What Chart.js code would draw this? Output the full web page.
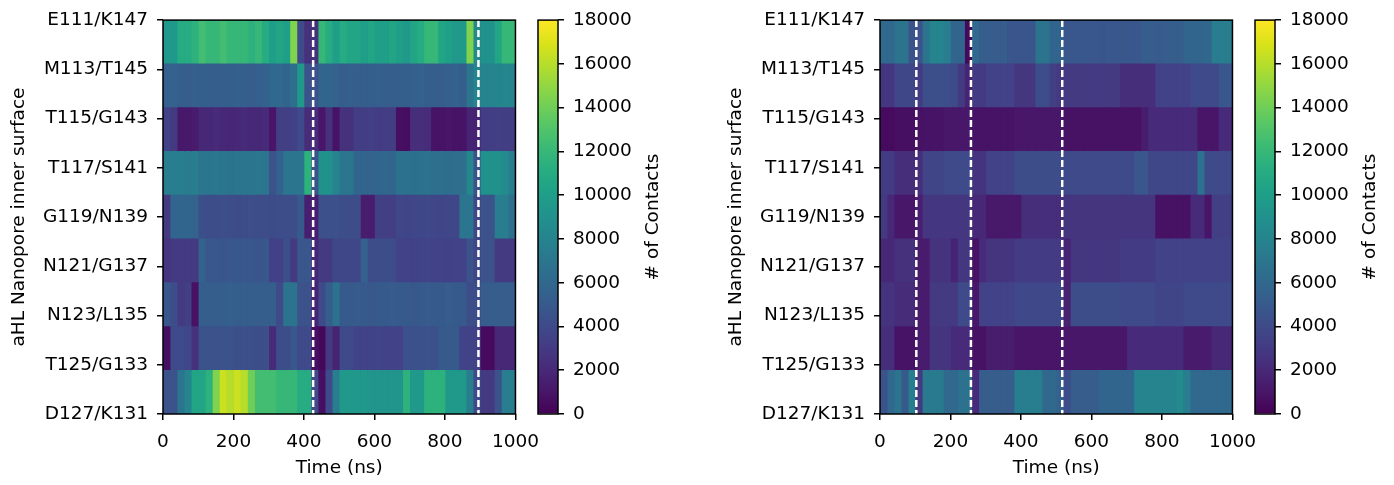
<!DOCTYPE html>
<html>
<head>
<meta charset="utf-8">
<script src="https://cdn.jsdelivr.net/npm/chart.js@4.4.1/dist/chart.umd.min.js"></script>
<style>
  body { margin: 0; background: #fff; width: 1394px; height: 485px; position: relative; overflow: hidden; }
  canvas { position: absolute; top: 0; }
</style>
</head>
<body>
<canvas id="heatA" width="550" height="485" style="left:0px"></canvas>
<canvas id="heatB" width="550" height="485" style="left:717px"></canvas>
<canvas id="barA" width="147" height="485" style="left:530px"></canvas>
<canvas id="barB" width="147" height="485" style="left:1247px"></canvas>
<script>
// row labels (top to bottom) and axis values
const rowLabels = ['E111/K147', 'M113/T145', 'T115/G143', 'T117/S141', 'G119/N139',
                   'N121/G137', 'N123/L135', 'T125/G133', 'D127/K131'];
const timeMax = 1000;
const binWidthNs = 20;
const timeTicks = [0, 200, 400, 600, 800, 1000];
const colorMin = 0;
const colorMax = 18000;
const colorTicks = [0, 2000, 4000, 6000, 8000, 10000, 12000, 14000, 16000, 18000];

// dashed marker times (ns)
const markersA = [426, 895];
const markersB = [103, 258, 517];

// left panel: contacts per 20 ns bin
const aE111 = [9500, 9500, 11000, 11000, 11500, 12500, 12000, 12000, 12500, 12000, 12000, 12000, 11500, 12000, 11000, 10000, 10500, 10000, 14500, 4000, 2500, 2500, 12000, 11000, 10000, 11000, 10500, 10500, 10000, 10500, 10000, 10000, 10500, 10000, 9500, 10500, 11000, 12000, 12000, 10500, 10000, 9500, 9500, 14500, 8500, 9000, 9000, 10500, 12000, 12000];
const aM113 = [5500, 5500, 5300, 5200, 5400, 5300, 5300, 5200, 5300, 5300, 5400, 5300, 5200, 5400, 5500, 6000, 6000, 5800, 6500, 9500, 4500, 4500, 5800, 5800, 5500, 5300, 5400, 5200, 5300, 5300, 5400, 5300, 5200, 5300, 5300, 5400, 5500, 5300, 5300, 5200, 5400, 5500, 5300, 7000, 8000, 8000, 8000, 8000, 8200, 8000];
const aT115 = [3500, 3000, 1200, 1200, 1300, 2000, 2000, 2100, 2000, 1900, 2000, 2100, 2000, 2000, 2100, 1000, 3300, 3300, 3400, 4000, 2200, 2200, 1000, 2500, 900, 2500, 2500, 3200, 3200, 3300, 3100, 3200, 3200, 700, 600, 2300, 2300, 2200, 900, 900, 1000, 900, 900, 1700, 1700, 3200, 3200, 3300, 3200, 3200];
const aT117 = [7500, 7500, 7500, 7400, 7500, 7000, 7000, 7100, 7000, 6900, 7000, 7000, 7000, 7100, 7000, 4500, 5500, 7000, 7000, 7000, 11500, 4600, 9000, 9000, 8000, 7000, 7000, 5800, 5800, 5700, 5800, 5900, 5800, 6700, 6700, 6600, 6700, 6800, 6500, 6500, 6400, 6500, 6500, 8200, 4600, 9000, 9000, 9000, 8500, 7500];
const aG119 = [3000, 5800, 5800, 5800, 5600, 4300, 4200, 4200, 4300, 4200, 4100, 4200, 4300, 4200, 4200, 4100, 4200, 4200, 4200, 5000, 1500, 1500, 4400, 4400, 4400, 4200, 4200, 4200, 1400, 1400, 3300, 3300, 3300, 3800, 3700, 3800, 3800, 3900, 3800, 3700, 3800, 3800, 7000, 7000, 3800, 4500, 4500, 7500, 7500, 6500];
const aN121 = [2700, 3000, 3000, 3000, 3000, 5600, 4800, 4800, 4700, 4800, 4900, 4800, 4800, 4700, 4800, 3400, 3400, 4300, 3000, 4800, 4800, 2000, 3000, 3000, 3800, 3800, 3800, 3800, 5500, 4200, 4200, 4200, 4200, 3500, 3500, 3400, 3500, 3600, 3500, 3500, 3400, 3500, 3500, 4500, 3800, 4500, 4500, 3000, 3000, 3000];
const aN123 = [4800, 4200, 3000, 3300, 800, 5300, 5300, 5200, 5300, 5400, 5300, 5300, 5300, 5200, 5300, 5300, 4000, 6800, 6800, 4500, 4500, 1800, 4000, 5300, 6700, 5000, 5000, 5100, 5000, 4900, 5000, 5000, 5100, 5000, 5000, 4900, 5000, 5100, 5000, 5000, 5200, 5000, 5000, 4200, 4200, 5200, 5200, 5300, 5200, 5200];
const aT125 = [700, 4000, 4000, 3800, 2500, 4500, 4500, 4500, 4600, 4500, 4300, 4300, 4300, 4200, 4300, 2100, 4200, 4200, 4800, 4000, 4000, 700, 300, 3000, 1700, 4000, 4000, 3500, 3500, 3500, 3600, 3500, 3500, 3500, 4400, 4400, 4400, 4500, 4400, 5000, 5000, 5000, 3500, 3500, 3500, 500, 500, 2000, 2000, 2000];
const aD127 = [4500, 4500, 7000, 8000, 10500, 10500, 11500, 14500, 16500, 16000, 16500, 16000, 14000, 12500, 12500, 12500, 12000, 12000, 12000, 11000, 11000, 4000, 700, 4000, 7500, 9500, 9500, 9500, 9500, 9200, 9200, 9200, 9200, 9200, 11500, 9500, 9500, 11500, 11500, 11500, 9500, 9500, 9500, 7500, 4000, 3000, 3000, 4500, 7500, 7500];

// right panel: contacts per 20 ns bin
const bE111 = [6000, 6000, 6800, 6800, 4500, 4500, 6800, 8000, 8000, 7500, 5800, 5800, 400, 6000, 5200, 5200, 5200, 5200, 4700, 4700, 4700, 4700, 6800, 6800, 5800, 5800, 4800, 4800, 4900, 4800, 4800, 4700, 4800, 4800, 4900, 4800, 4800, 5200, 5200, 5100, 5200, 5300, 5200, 5800, 5800, 5800, 5900, 7500, 7500, 7500];
const bM113 = [2800, 2800, 3800, 3800, 3800, 3100, 4300, 4300, 4300, 4300, 4000, 3000, 1700, 3000, 3000, 3500, 3500, 3500, 3500, 2800, 2800, 2800, 4200, 4200, 3300, 3000, 3000, 3000, 3000, 3000, 3000, 3000, 3000, 3000, 2300, 2300, 2300, 2300, 2300, 3500, 3500, 3500, 3500, 3500, 4000, 4000, 4000, 4000, 4800, 4800];
const bT115 = [500, 500, 700, 700, 700, 800, 900, 900, 900, 1100, 1100, 1100, 1100, 900, 900, 900, 900, 900, 900, 1100, 1100, 1100, 1100, 1100, 1100, 1100, 800, 800, 800, 800, 800, 800, 800, 800, 800, 800, 800, 1400, 2100, 2100, 2100, 2100, 2100, 2100, 2100, 1000, 1000, 1000, 2100, 2100];
const bT117 = [3100, 3100, 2300, 2300, 2300, 2300, 3700, 3700, 3700, 4000, 4000, 4000, 4000, 2600, 2600, 3500, 3500, 3500, 3500, 4200, 4200, 4200, 4200, 4200, 4200, 4200, 4000, 4000, 4000, 4000, 4000, 4000, 4000, 4000, 4000, 4000, 4800, 4800, 3800, 3800, 3800, 3800, 3800, 3800, 3800, 6700, 4000, 4000, 4000, 4000];
const bG119 = [3000, 2000, 1100, 1100, 1100, 1500, 2800, 2800, 2800, 2800, 2800, 2800, 2800, 2000, 2000, 1200, 1200, 1200, 1200, 1200, 2300, 2300, 2300, 2300, 2300, 2300, 2700, 2700, 2700, 2700, 2700, 2700, 2700, 2700, 2700, 2700, 2700, 2700, 2700, 800, 800, 800, 800, 800, 2100, 2100, 1000, 3300, 3300, 3300];
const bN121 = [2000, 2000, 2500, 2500, 2500, 1300, 1300, 2600, 2600, 2600, 1700, 2800, 2800, 800, 2100, 2700, 2700, 2700, 2700, 3100, 3100, 3100, 3100, 3100, 3100, 3100, 1700, 2800, 2800, 2800, 2800, 2800, 2800, 2800, 3100, 3100, 3100, 3100, 3100, 3500, 3500, 3500, 3500, 3500, 3500, 3500, 3500, 3500, 3500, 3500];
const bN123 = [2600, 2600, 2200, 2200, 2200, 1300, 1300, 3000, 3000, 3000, 3000, 4000, 4000, 1100, 3500, 3500, 3500, 3500, 3500, 3900, 3900, 3900, 3900, 3900, 3900, 3900, 1600, 4200, 4200, 4200, 4200, 4200, 4200, 4200, 4000, 4000, 4000, 4000, 4000, 3700, 3700, 3700, 3700, 4000, 4000, 4000, 4000, 4000, 4000, 4000];
const bT125 = [2300, 2300, 900, 900, 900, 1300, 1300, 2700, 2700, 2700, 2100, 2100, 2100, 800, 800, 1400, 1400, 1400, 1400, 1000, 1000, 1000, 1000, 1000, 1000, 1000, 1100, 1100, 1100, 1100, 1100, 1100, 1100, 1100, 1100, 2100, 2100, 2100, 2100, 2100, 2100, 2100, 2100, 1300, 1300, 1300, 1300, 2000, 2000, 2000];
const bD127 = [4500, 6000, 6800, 5000, 7500, 3000, 7300, 7300, 7300, 6000, 6000, 6700, 6700, 2100, 5200, 5200, 5200, 5200, 5200, 7500, 7500, 7500, 7500, 6000, 6000, 5500, 4200, 5200, 5200, 5200, 5200, 5800, 5800, 5800, 5800, 5800, 8000, 8000, 8000, 8000, 8000, 8000, 8500, 7500, 6000, 6000, 6000, 6000, 6000, 6000];

const rowsA = [aE111, aM113, aT115, aT117, aG119, aN121, aN123, aT125, aD127];
const rowsB = [bE111, bM113, bT115, bT117, bG119, bN121, bN123, bT125, bD127];

Chart.defaults.font.family = 'DejaVu Sans';
Chart.defaults.font.size = 18.5;
Chart.defaults.color = '#000';

// viridis colormap stops
const viridisStops = ['#440154', '#48186a', '#472d7b', '#424086', '#3b528b', '#33638d', '#2c728e', '#26828e',
  '#21918c', '#1fa088', '#28ae80', '#3fbc73', '#5ec962', '#84d44b', '#addc30', '#d8e219', '#fde725'];

function hexRgb(h) {
  return [parseInt(h.slice(1, 3), 16), parseInt(h.slice(3, 5), 16), parseInt(h.slice(5, 7), 16)];
}

function viridis(t) {
  t = Math.min(1, Math.max(0, t));
  const n = viridisStops.length - 1;
  const p = t * n;
  const i = Math.min(n - 1, Math.floor(p));
  const f = p - i;
  const a = hexRgb(viridisStops[i]), b = hexRgb(viridisStops[i + 1]);
  const c = a.map((v, k) => Math.round(v + (b[k] - v) * f));
  return 'rgb(' + c.join(',') + ')';
}

const binStarts = Array.from({ length: timeMax / binWidthNs }, (_, i) => i * binWidthNs);

// frame around the plot area (matplotlib style box)
const framePlugin = {
  id: 'frame',
  beforeDatasetsDraw(chart, args, opts) {
    if (!opts.fill) return;
    const { ctx, chartArea: a } = chart;
    ctx.save();
    ctx.fillStyle = opts.fill;
    ctx.fillRect(a.left, a.top, a.right - a.left, a.bottom - a.top);
    ctx.restore();
  },
  afterDraw(chart) {
    const { ctx, chartArea: a } = chart;
    ctx.save();
    ctx.strokeStyle = '#000';
    ctx.lineWidth = 1.5;
    ctx.strokeRect(a.left, a.top, a.right - a.left, a.bottom - a.top);
    ctx.restore();
  }
};

// rotated label for the colorbar
const cbTitlePlugin = {
  id: 'cbTitle',
  afterDraw(chart, args, opts) {
    const { ctx, chartArea: a } = chart;
    ctx.save();
    ctx.font = '18.5px "DejaVu Sans"';
    ctx.fillStyle = '#000';
    ctx.textAlign = 'center';
    ctx.textBaseline = 'middle';
    ctx.translate(opts.x, (a.top + a.bottom) / 2);
    ctx.rotate(-Math.PI / 2);
    ctx.fillText(opts.text, 0, 0);
    ctx.restore();
  }
};

const tickGrid = { drawOnChartArea: false, drawTicks: true, tickLength: 6, lineWidth: 1.5, color: '#000', offset: false };

function makeHeatmap(id, rows, markers) {
  const datasets = [];
  markers.forEach(t => {
    datasets.push({
      type: 'line',
      data: [{ x: t, y: 0 }, { x: t, y: rows.length }],
      borderColor: '#ffffff',
      borderWidth: 2.5,
      borderDash: [7, 3],
      pointRadius: 0,
      order: 0
    });
  });
  binStarts.forEach((t0, c) => {
    datasets.push({
      type: 'bar',
      data: rows.map((row, r) => ({ x: [t0, t0 + binWidthNs], y: r + 0.5 })),
      backgroundColor: rows.map(row => viridis((row[c] - colorMin) / (colorMax - colorMin))),
      borderWidth: 0,
      barPercentage: 1,
      categoryPercentage: 1,
      grouped: false,
      order: 1
    });
  });

  new Chart(document.getElementById(id), {
    type: 'bar',
    data: { datasets },
    options: {
      indexAxis: 'y',
      responsive: false,
      animation: false,
      devicePixelRatio: 1,
      layout: { padding: { top: 18, right: 34, bottom: 0, left: 0 } },
      plugins: { legend: { display: false }, tooltip: { enabled: false }, frame: { fill: '#3b528b' } },
      scales: {
        x: {
          type: 'linear',
          min: 0,
          max: timeMax,
          offset: false,
          afterBuildTicks(s) { s.ticks = timeTicks.map(v => ({ value: v })); },
          ticks: { padding: 11, maxRotation: 0, autoSkip: false, callback: v => String(v) },
          grid: tickGrid,
          border: { display: false },
          title: { display: true, text: 'Time (ns)', padding: { top: 0, bottom: 6 } },
          afterFit(s) { s.height = 71; }
        },
        y: {
          type: 'linear',
          min: 0,
          max: rows.length,
          reverse: true,
          offset: false,
          afterBuildTicks(s) {
            s.ticks = rowLabels.map((_, k) => ({ value: k * rows.length / (rowLabels.length - 1) }));
          },
          ticks: { padding: 9, autoSkip: false, callback: (v, i) => rowLabels[i] },
          grid: tickGrid,
          border: { display: false },
          title: { display: true, text: 'aHL Nanopore inner surface', padding: { top: 8, bottom: 0 } },
          afterFit(s) { s.width = 163; }
        }
      }
    },
    plugins: [framePlugin]
  });
}

function makeColorbar(id) {
  new Chart(document.getElementById(id), {
    type: 'bar',
    data: {
      labels: [''],
      datasets: [{
        data: [[colorMin, colorMax]],
        backgroundColor(ctx) {
          const a = ctx.chart.chartArea;
          if (!a) return viridisStops[0];
          const g = ctx.chart.ctx.createLinearGradient(0, a.bottom, 0, a.top);
          viridisStops.forEach((s, i) => g.addColorStop(i / (viridisStops.length - 1), s));
          return g;
        },
        borderWidth: 0,
        barPercentage: 1,
        categoryPercentage: 1
      }]
    },
    options: {
      responsive: false,
      animation: false,
      devicePixelRatio: 1,
      layout: { padding: { top: 17, right: 0, bottom: 71, left: 8 } },
      plugins: {
        legend: { display: false },
        tooltip: { enabled: false },
        frame: {},
        cbTitle: { text: '# of Contacts', x: 123 }
      },
      scales: {
        x: { display: false },
        y: {
          position: 'right',
          min: colorMin,
          max: colorMax,
          afterBuildTicks(s) { s.ticks = colorTicks.map(v => ({ value: v })); },
          ticks: { padding: 9, autoSkip: false, callback: v => String(v) },
          grid: tickGrid,
          border: { display: false },
          afterFit(s) { s.width = 119; }
        }
      }
    },
    plugins: [framePlugin, cbTitlePlugin]
  });
}

makeHeatmap('heatA', rowsA, markersA);
makeHeatmap('heatB', rowsB, markersB);
makeColorbar('barA');
makeColorbar('barB');
</script>
</body>
</html>
